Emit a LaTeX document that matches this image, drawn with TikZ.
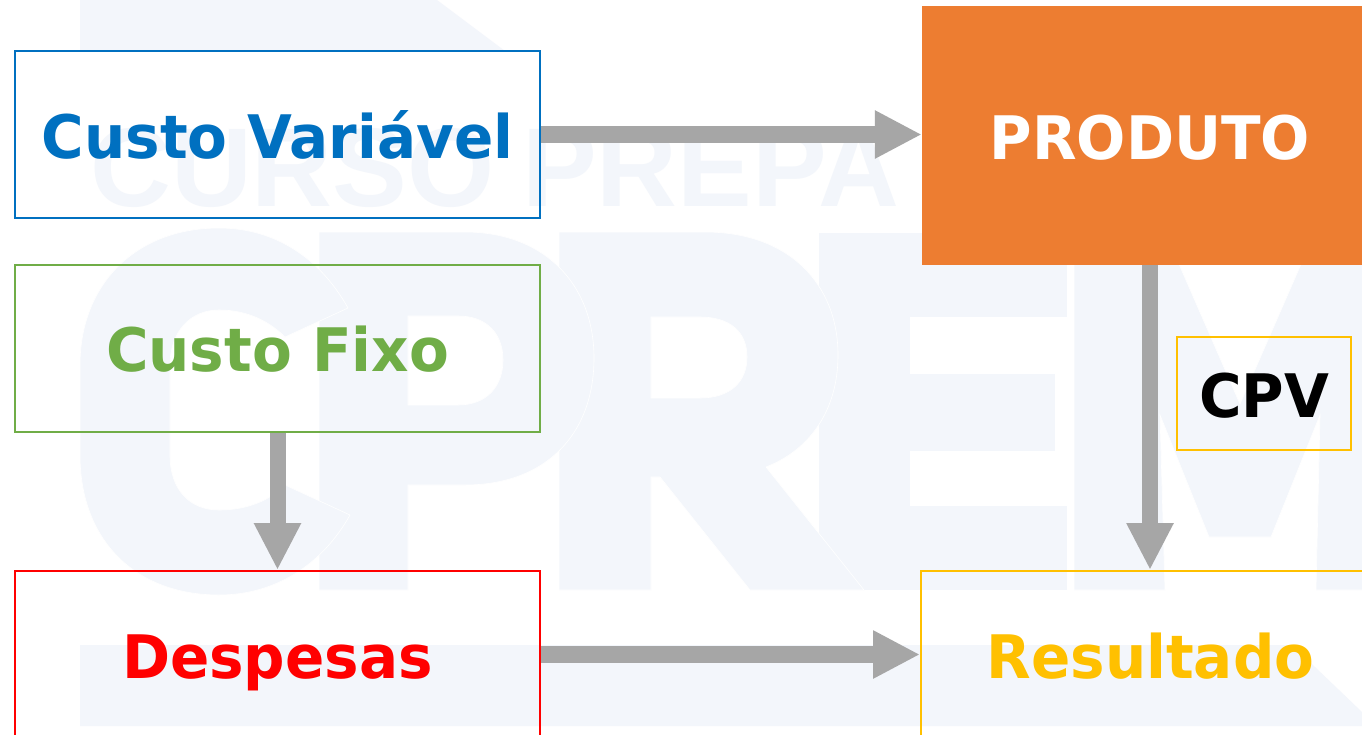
\documentclass[tikz,border=0pt]{standalone}
\usepackage{fontspec}
\setmainfont{DejaVu Sans}[FakeStretch=0.966]
\newfontfamily\wmfont{Liberation Sans}
\usetikzlibrary{arrows.meta}
\definecolor{wm}{HTML}{F3F6FB}
\definecolor{cblue}{HTML}{0070C0}
\definecolor{cgreen}{HTML}{70AD47}
\definecolor{cred}{HTML}{FF0000}
\definecolor{cyellow}{HTML}{FFC000}
\definecolor{corange}{HTML}{ED7D31}
\definecolor{cgray}{HTML}{A6A6A6}
\tikzset{
  wmshape/.style={fill=wm,draw=white,line width=0.6pt,even odd rule},
  wmtextstyle/.style={text=wm,anchor=base west,inner sep=0pt,font=\fontsize{112}{112}\selectfont\wmfont\bfseries},
  flowbox/.style={draw=#1,text=#1,line width=2pt,inner sep=0pt,minimum width=525pt,minimum height=167pt,
    font=\fontsize{60}{60}\selectfont\bfseries,text height=47pt,text depth=0pt},
  flowarrow/.style={draw=cgray,line width=17pt,-{Triangle[length=47pt,width=45pt]}},
  flowarrowv/.style={draw=cgray,line width=16pt,-{Triangle[length=47pt,width=44pt]}},
}
\begin{document}
\begin{tikzpicture}[x=1pt,y=-1pt]
\clip (0,0) rectangle (1362,734);
\fill[white] (0,0) rectangle (1362,734);
% watermark
\fill[wm] (80,0) -- (437,0) -- (505,51) -- (80,51) -- cycle;
\fill[wm] (80,645) -- (1292,645) -- (1362,712) -- (1362,726) -- (80,726) -- cycle;
\node[wmtextstyle] (wmone) at (90,206) {CURSO};
\node[wmtextstyle] (wmtwo) at (522,206) {PREPA};
% M
\path[wmshape] (1074,232) -- (1165,232) -- (1240,404) -- (1315,232) -- (1370,232) -- (1370,590) -- (1316,590) -- (1320,415) -- (1271,537) -- (1209,537) -- (1160,415) -- (1165,590) -- (1074,590) -- cycle;
% E
\path[wmshape] (818,232) -- (1067,232) -- (1067,317) -- (910,317) -- (910,373) -- (1055,373) -- (1055,451) -- (910,451) -- (910,505) -- (1067,505) -- (1067,590) -- (818,590) -- cycle;
% R
\path[wmshape] (559,232) -- (705,232) .. controls (790,232) and (838,285) .. (838,355)
  .. controls (838,410) and (810,450) .. (766,467) -- (864,590) -- (750,590) -- (660,477) -- (651,477) -- (651,590) -- (559,590) -- cycle
  (651,317) -- (651,398) -- (700,398) .. controls (730,398) and (747,382) .. (747,357)
  .. controls (747,332) and (730,317) .. (700,317) -- cycle;
% P
\path[wmshape] (319,232) -- (465,232) .. controls (545,232) and (594,285) .. (594,358)
  .. controls (594,435) and (545,485) .. (465,485) -- (408,485) -- (408,590) -- (319,590) -- cycle
  (408,316) -- (408,405) -- (458,405) .. controls (488,405) and (503,385) .. (503,360)
  .. controls (503,335) and (488,316) .. (458,316) -- cycle;
% C
\path[wmshape] (348,308) .. controls (320,258) and (275,228) .. (219,228)
  .. controls (135,228) and (80,285) .. (80,365) -- (80,455)
  .. controls (80,540) and (135,595) .. (219,595)
  .. controls (275,595) and (322,565) .. (350,515)
  -- (285,485) .. controls (270,500) and (248,510) .. (219,510)
  .. controls (190,510) and (170,490) .. (170,455) -- (170,365)
  .. controls (170,332) and (190,310) .. (219,310)
  .. controls (248,310) and (270,322) .. (285,337) -- cycle;
% boxes
\node[flowbox=cblue] (cv) at (277.5,134.5) {Custo Variável};
\node[flowbox=cgreen] (cf) at (277.5,348) {Custo Fixo};
\node[flowbox=cred] (de) at (277.5,654.5) {Despesas};
\node[fill=corange,text=white,inner sep=0pt,minimum width=456pt,minimum height=259pt,
  font=\fontsize{60}{60}\selectfont\bfseries,text height=47pt,text depth=0pt] (pr) at (1150,135.5) {PRODUTO};
\node[flowbox=cyellow,minimum width=459pt] (re) at (1150.5,654.5) {Resultado};
\node[draw=cyellow,line width=1.6pt,inner sep=0pt,minimum width=174pt,minimum height=113pt,text=black,
  font=\fontsize{60}{60}\selectfont\bfseries,text height=47pt,text depth=0pt] (cpv) at (1264,393.5) {CPV};
% connectors
\draw[flowarrow] (cv.east) -- (cv.east -| pr.west);
\draw[flowarrowv] (cf.south) -- (de.north);
\draw[flowarrowv] (pr.south) -- (re.north -| pr.south);
\draw[flowarrow] (de.east) -- (re.west);
\end{tikzpicture}
\end{document}
